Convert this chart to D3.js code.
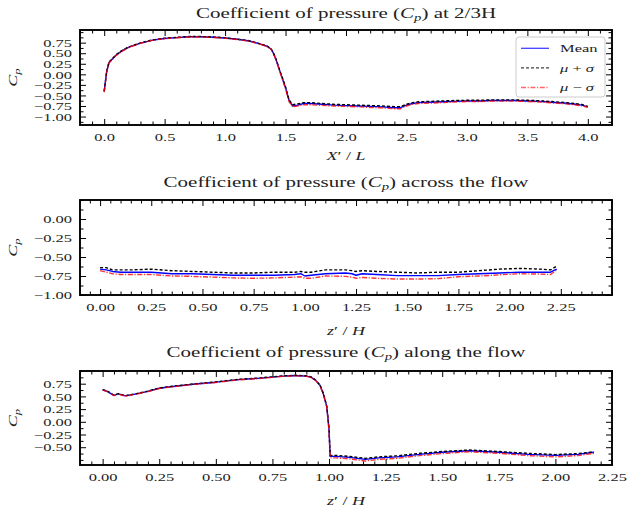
<!DOCTYPE html>
<html>
<head>
<meta charset="utf-8">
<script src="https://cdn.jsdelivr.net/npm/d3@7"></script>
<style>
  html, body { margin: 0; padding: 0; background: #fff; }
  svg { display: block; }
  text { font-family: "Liberation Serif", "DejaVu Serif", serif; fill: #222; }
</style>
</head>
<body>
<svg id="chart" width="627" height="513"></svg>
<script>
// ---- Panel 1: pressure coefficient at 2/3 H along X'/L ----
const p1X = [0, 0.02, 0.04, 0.1, 0.15, 0.2, 0.3, 0.4, 0.5, 0.6, 0.7, 0.8, 0.9, 1.0, 1.1, 1.2, 1.3, 1.35, 1.38, 1.4, 1.42, 1.45, 1.48, 1.5, 1.53, 1.56, 1.6, 1.65, 1.7, 1.8, 1.9, 2.0, 2.1, 2.2, 2.3, 2.4, 2.45, 2.5, 2.55, 2.6, 2.7, 2.8, 2.9, 3.0, 3.1, 3.2, 3.3, 3.4, 3.5, 3.6, 3.7, 3.8, 3.9, 3.95, 4.0];
const p1Mean = [-0.41, 0.05, 0.28, 0.46, 0.56, 0.64, 0.74, 0.81, 0.85, 0.87, 0.89, 0.89, 0.88, 0.86, 0.83, 0.79, 0.71, 0.66, 0.60, 0.50, 0.36, 0.10, -0.15, -0.32, -0.63, -0.75, -0.73, -0.69, -0.69, -0.71, -0.73, -0.74, -0.75, -0.76, -0.77, -0.79, -0.79, -0.73, -0.69, -0.67, -0.66, -0.65, -0.64, -0.63, -0.63, -0.62, -0.62, -0.62, -0.63, -0.64, -0.66, -0.68, -0.71, -0.73, -0.77];
const p1Plus = [-0.40, 0.06, 0.29, 0.47, 0.57, 0.645, 0.745, 0.815, 0.855, 0.875, 0.895, 0.895, 0.885, 0.865, 0.835, 0.795, 0.715, 0.665, 0.605, 0.505, 0.37, 0.11, -0.13, -0.30, -0.61, -0.72, -0.70, -0.67, -0.67, -0.69, -0.71, -0.72, -0.73, -0.74, -0.75, -0.765, -0.765, -0.71, -0.67, -0.65, -0.64, -0.63, -0.62, -0.615, -0.615, -0.605, -0.605, -0.605, -0.615, -0.625, -0.645, -0.665, -0.695, -0.715, -0.76];
const p1Minus = [-0.42, 0.04, 0.27, 0.45, 0.55, 0.635, 0.735, 0.805, 0.845, 0.865, 0.885, 0.885, 0.875, 0.855, 0.825, 0.785, 0.705, 0.655, 0.595, 0.495, 0.35, 0.09, -0.17, -0.34, -0.65, -0.77, -0.75, -0.72, -0.72, -0.735, -0.75, -0.76, -0.77, -0.785, -0.795, -0.815, -0.815, -0.75, -0.71, -0.69, -0.68, -0.67, -0.655, -0.645, -0.645, -0.635, -0.635, -0.635, -0.645, -0.655, -0.675, -0.695, -0.725, -0.745, -0.78];
const p1XTicks = [0, 0.5, 1.0, 1.5, 2.0, 2.5, 3.0, 3.5, 4.0];
const p1YTicks = [-1.0, -0.75, -0.5, -0.25, 0, 0.25, 0.5, 0.75];

// ---- Panel 2: pressure coefficient across the flow (z'/H) ----
const p2X = [0, 0.03, 0.06, 0.1, 0.15, 0.25, 0.35, 0.45, 0.55, 0.65, 0.75, 0.85, 0.95, 0.98, 1.0, 1.03, 1.1, 1.2, 1.23, 1.25, 1.28, 1.35, 1.45, 1.55, 1.65, 1.75, 1.85, 1.95, 2.05, 2.15, 2.2, 2.23];
const p2Mean = [-0.66, -0.67, -0.69, -0.70, -0.70, -0.70, -0.72, -0.72, -0.73, -0.74, -0.74, -0.74, -0.73, -0.72, -0.75, -0.74, -0.72, -0.71, -0.72, -0.74, -0.72, -0.73, -0.745, -0.745, -0.745, -0.73, -0.72, -0.71, -0.70, -0.70, -0.70, -0.66];
const p2Plus = [-0.64, -0.64, -0.67, -0.67, -0.67, -0.66, -0.68, -0.69, -0.70, -0.71, -0.71, -0.70, -0.70, -0.69, -0.70, -0.70, -0.67, -0.67, -0.68, -0.69, -0.68, -0.69, -0.70, -0.71, -0.70, -0.70, -0.68, -0.66, -0.65, -0.66, -0.67, -0.62];
const p2Minus = [-0.68, -0.70, -0.72, -0.73, -0.73, -0.73, -0.75, -0.755, -0.765, -0.775, -0.78, -0.775, -0.765, -0.76, -0.78, -0.78, -0.75, -0.755, -0.765, -0.78, -0.77, -0.78, -0.79, -0.79, -0.785, -0.76, -0.75, -0.735, -0.72, -0.725, -0.73, -0.67];
const p2XTicks = [0, 0.25, 0.5, 0.75, 1.0, 1.25, 1.5, 1.75, 2.0, 2.25];
const p2YTicks = [-1.0, -0.75, -0.5, -0.25, 0];

// ---- Panel 3: pressure coefficient along the flow (z'/H) ----
const p3X = [0, 0.02, 0.035, 0.05, 0.07, 0.1, 0.15, 0.2, 0.25, 0.3, 0.4, 0.5, 0.6, 0.7, 0.75, 0.8, 0.85, 0.9, 0.92, 0.94, 0.96, 0.975, 0.99, 1.0, 1.005, 1.03, 1.09, 1.16, 1.22, 1.3, 1.4, 1.5, 1.62, 1.75, 1.88, 2.0, 2.1, 2.17];
const p3Mean = [0.63, 0.60, 0.56, 0.52, 0.55, 0.51, 0.55, 0.60, 0.66, 0.69, 0.74, 0.78, 0.83, 0.86, 0.88, 0.90, 0.91, 0.90, 0.88, 0.82, 0.72, 0.55, 0.30, -0.15, -0.68, -0.68, -0.70, -0.74, -0.71, -0.69, -0.64, -0.60, -0.57, -0.60, -0.64, -0.66, -0.64, -0.60];
const p3Plus = [0.635, 0.605, 0.565, 0.525, 0.555, 0.515, 0.555, 0.605, 0.665, 0.695, 0.745, 0.785, 0.835, 0.865, 0.885, 0.905, 0.915, 0.905, 0.885, 0.825, 0.725, 0.56, 0.31, -0.13, -0.66, -0.66, -0.68, -0.72, -0.69, -0.67, -0.62, -0.585, -0.555, -0.585, -0.62, -0.645, -0.625, -0.59];
const p3Minus = [0.625, 0.595, 0.555, 0.515, 0.545, 0.505, 0.545, 0.595, 0.655, 0.685, 0.735, 0.775, 0.825, 0.855, 0.875, 0.895, 0.905, 0.895, 0.875, 0.815, 0.715, 0.54, 0.29, -0.17, -0.71, -0.71, -0.73, -0.77, -0.74, -0.72, -0.665, -0.625, -0.59, -0.62, -0.665, -0.69, -0.665, -0.62];
const p3XTicks = [0, 0.25, 0.5, 0.75, 1.0, 1.25, 1.5, 1.75, 2.0, 2.25];
const p3YTicks = [-0.5, -0.25, 0, 0.25, 0.5, 0.75];

// Legend entries: [symbol, operator, symbol]
const seriesNames = ["Mean", "μ + σ", "μ − σ"];

// ---------------------------------------------------------------
const svg = d3.select("#chart");
const SX = 1.5;       // horizontal glyph stretch for the serif text
const TITLE_SX = 1.4;

const styles = [
  { stroke: "#0000ff", dash: null, opacity: 1 },
  { stroke: "#000000", dash: "3,2", opacity: 1 },
  { stroke: "#ff0000", dash: "5,1.6,1.2,1.6", opacity: 0.8 }
];

function stretchText(sel, sx) {
  // move x/y into a transform so glyphs can be widened without shifting anchors
  sel.each(function () {
    const t = d3.select(this);
    const x = +t.attr("x") || 0, y = +t.attr("y") || 0;
    t.attr("x", 0).attr("y", 0)
     .attr("transform", `translate(${x},${y}) scale(${sx},1)`);
  });
}

function minorTicks(domain, step, majors) {
  const out = [];
  const lo = Math.ceil(domain[0] / step - 1e-9), hi = Math.floor(domain[1] / step + 1e-9);
  for (let i = lo; i <= hi; i++) {
    const v = +(i * step).toFixed(6);
    if (!majors.some(m => Math.abs(m - v) < 1e-6)) out.push(v);
  }
  return out;
}

function panel(cfg) {
  const { top, bottom, left, right } = cfg;
  const g = svg.append("g");
  const x = d3.scaleLinear().domain(cfg.xDomain).range([left, right]);
  const y = d3.scaleLinear().domain(cfg.yDomain).range([bottom, top]);

  // clip curves to the axes box
  const clipId = "clip" + cfg.id;
  svg.append("clipPath").attr("id", clipId)
    .append("rect").attr("x", left).attr("y", top).attr("width", right - left).attr("height", bottom - top);

  const series = [cfg.mean, cfg.plus, cfg.minus];
  const line = d3.line().x((d, i) => x(cfg.x[i])).y(d => y(d));
  const curves = g.append("g").attr("clip-path", `url(#${clipId})`);
  series.forEach((s, k) => {
    curves.append("path")
      .attr("d", line(s))
      .attr("fill", "none")
      .attr("stroke", styles[k].stroke)
      .attr("stroke-width", 1.4)
      .attr("stroke-opacity", styles[k].opacity)
      .attr("stroke-dasharray", styles[k].dash)
      .attr("stroke-linejoin", "round");
  });

  const MAJ = 6, MIN = 3.5;
  const xMinor = minorTicks(cfg.xDomain, cfg.xMinorStep, cfg.xTicks);
  const yMinor = minorTicks(cfg.yDomain, cfg.yMinorStep, cfg.yTicks);

  // bottom axis with labels, inward ticks
  const axB = g.append("g").attr("transform", `translate(0,${bottom})`)
    .call(d3.axisBottom(x).tickValues(cfg.xTicks).tickFormat(d3.format(cfg.xFmt)).tickSize(-MAJ));
  axB.selectAll("text").attr("y", 16).attr("dy", null).style("font-size", "11px");
  stretchText(axB.selectAll("text"), SX);
  g.append("g").attr("transform", `translate(0,${bottom})`)
    .call(d3.axisBottom(x).tickValues(xMinor).tickFormat("").tickSize(-MIN));
  // top axis, ticks only
  g.append("g").attr("transform", `translate(0,${top})`)
    .call(d3.axisTop(x).tickValues(cfg.xTicks).tickFormat("").tickSize(-MAJ));
  g.append("g").attr("transform", `translate(0,${top})`)
    .call(d3.axisTop(x).tickValues(xMinor).tickFormat("").tickSize(-MIN));

  // left axis with labels
  const axL = g.append("g").attr("transform", `translate(${left},0)`)
    .call(d3.axisLeft(y).tickValues(cfg.yTicks).tickFormat(d3.format(".2f")).tickSize(-MAJ));
  axL.selectAll("text").attr("x", -8).attr("dy", null).attr("y", 3.7).style("font-size", "11px");
  stretchText(axL.selectAll("text"), SX);
  g.append("g").attr("transform", `translate(${left},0)`)
    .call(d3.axisLeft(y).tickValues(yMinor).tickFormat("").tickSize(-MIN));
  // right axis, ticks only
  g.append("g").attr("transform", `translate(${right},0)`)
    .call(d3.axisRight(y).tickValues(cfg.yTicks).tickFormat("").tickSize(-MAJ));
  g.append("g").attr("transform", `translate(${right},0)`)
    .call(d3.axisRight(y).tickValues(yMinor).tickFormat("").tickSize(-MIN));

  g.selectAll(".domain").remove();
  g.selectAll(".tick line").attr("stroke", "#000").attr("stroke-width", 1);

  // frame
  g.append("rect").attr("x", left).attr("y", top)
    .attr("width", right - left).attr("height", bottom - top)
    .attr("fill", "none").attr("stroke", "#000").attr("stroke-width", 1.9);

  // title
  const tt = g.append("text").attr("x", (left + right) / 2).attr("y", cfg.titleY)
    .attr("text-anchor", "middle").style("font-size", "15px");
  tt.append("tspan").text("Coefficient of pressure (");
  tt.append("tspan").attr("font-style", "italic").text("C");
  tt.append("tspan").attr("font-style", "italic").attr("dy", 3).style("font-size", "10.5px").text("p");
  tt.append("tspan").attr("dy", -3).text(")" + cfg.titleTail);
  stretchText(tt, TITLE_SX);

  // x label
  const xl = g.append("text").attr("x", (left + right) / 2).attr("y", cfg.xLabelY)
    .attr("text-anchor", "middle").style("font-size", "12px");
  xl.append("tspan").attr("font-style", "italic").text(cfg.xVar);
  xl.append("tspan").text("′ / ");
  xl.append("tspan").attr("font-style", "italic").text(cfg.xRef);
  stretchText(xl, SX);

  // y label
  const yl = g.append("text")
    .attr("transform", `translate(13,${(top + bottom) / 2}) rotate(-90) scale(${SX},1)`)
    .attr("text-anchor", "middle").attr("dy", "0.3em").style("font-size", "12px");
  yl.append("tspan").attr("font-style", "italic").text("C");
  yl.append("tspan").attr("font-style", "italic").attr("dy", 3).style("font-size", "8.5px").text("p");

  return { g, x, y };
}

const L = 80, R = 612;

const firstPanel = panel({
  id: 1, top: 30, bottom: 125, left: L, right: R,
  xDomain: [-0.2, 4.2], yDomain: [-1.2, 1.05],
  x: p1X, mean: p1Mean, plus: p1Plus, minus: p1Minus,
  xTicks: p1XTicks, yTicks: p1YTicks, xMinorStep: 0.1, yMinorStep: 0.125, xFmt: ".1f",
  titleY: 18, titleTail: " at 2/3H", xLabelY: 160, xVar: "X", xRef: "L"
});

panel({
  id: 2, top: 200, bottom: 295, left: L, right: R,
  xDomain: [-0.098, 2.5], yDomain: [-1.0, 0.25],
  x: p2X, mean: p2Mean, plus: p2Plus, minus: p2Minus,
  xTicks: p2XTicks, yTicks: p2YTicks, xMinorStep: 0.05, yMinorStep: 0.125, xFmt: ".2f",
  titleY: 187, titleTail: " across the flow", xLabelY: 335, xVar: "z", xRef: "H"
});

panel({
  id: 3, top: 371, bottom: 465, left: L, right: R,
  xDomain: [-0.1, 2.25], yDomain: [-0.85, 1.0],
  x: p3X, mean: p3Mean, plus: p3Plus, minus: p3Minus,
  xTicks: p3XTicks, yTicks: p3YTicks, xMinorStep: 0.05, yMinorStep: 0.125, xFmt: ".2f",
  titleY: 357, titleTail: " along the flow", xLabelY: 505, xVar: "z", xRef: "H"
});

// legend in the first panel
const lg = firstPanel.g.append("g");
lg.append("rect").attr("x", 516).attr("y", 37).attr("width", 89).attr("height", 60)
  .attr("rx", 3).attr("fill", "#fff").attr("fill-opacity", 0.85)
  .attr("stroke", "#cccccc").attr("stroke-width", 1);
const rowY = d3.scalePoint().domain(seriesNames).range([48.3, 87.5]);
seriesNames.forEach((name, k) => {
  const yy = rowY(name);
  lg.append("line").attr("x1", 521).attr("x2", 549).attr("y1", yy).attr("y2", yy)
    .attr("stroke", styles[k].stroke).attr("stroke-opacity", styles[k].opacity * 0.75)
    .attr("stroke-width", 1.3).attr("stroke-dasharray", styles[k].dash);
  const t = lg.append("text").attr("x", 560).attr("y", yy + 3.8).style("font-size", "11px");
  if (k === 0) {
    t.text(name);
  } else {
    // Greek symbols italic, operator upright
    const parts = name.split(" ");
    t.append("tspan").attr("font-style", "italic").text(parts[0]);
    t.append("tspan").text(" " + parts[1] + " ");
    t.append("tspan").attr("font-style", "italic").text(parts[2]);
  }
  stretchText(t, SX);
});
</script>
</body>
</html>
